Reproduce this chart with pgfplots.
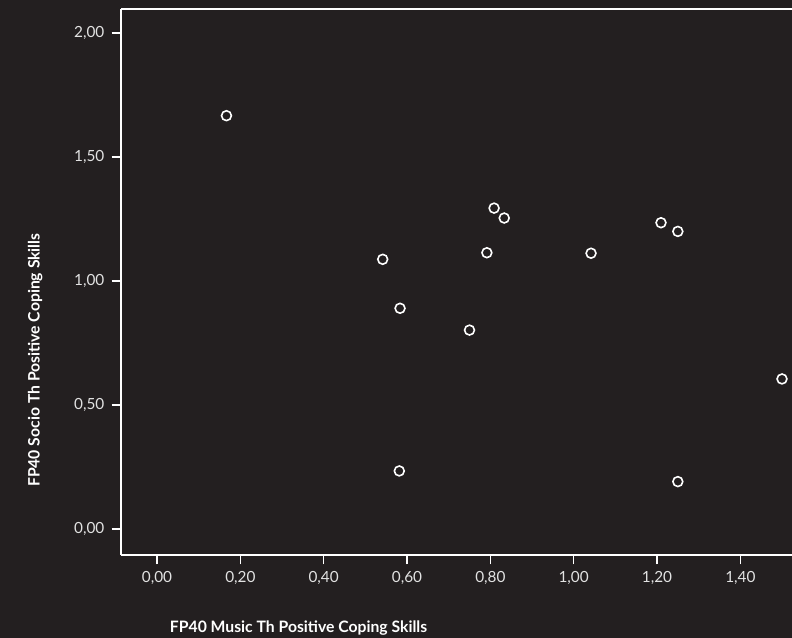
\documentclass[border=0pt]{standalone}
\usepackage{pgfplots}
\pgfplotsset{compat=1.18}
\usepackage{fontspec}
\setmainfont{Lato}
\definecolor{bg}{HTML}{231F20}
\definecolor{tk}{HTML}{E2E2E2}
\begin{document}
\begin{tikzpicture}
\fill[bg,use as bounding box] (0,0) rectangle (594pt,478.5pt);
\begin{axis}[
  at={(90.75pt,62.25pt)}, anchor=south west,
  scale only axis, width=503.25pt, height=409.5pt,
  xmin=-0.0864, xmax=1.524, ymin=-0.105, ymax=2.097,
  axis x line*=box, axis y line*=left,
  xtick pos=bottom, ytick pos=left,
  axis line style={white, line width=1.2pt},
  every tick/.style={white, line width=1.2pt},
  tick align=outside, major tick length=7pt,
  xtick={0,0.2,...,1.41}, ytick={0,0.5,...,2.01},
  minor tick num=0,
  /pgf/number format/.cd, use comma, fixed, fixed zerofill, precision=2, assume math mode=true,
  /pgfplots/.cd,
  tick label style={font=\fontsize{11.5}{13}\selectfont, text=tk},
  xticklabel style={yshift=-2pt},
  yticklabel style={xshift=-2pt},
  xlabel={FP40 Music Th Positive Coping Skills},
  ylabel={FP40 Socio Th Positive Coping Skills},
  label style={font=\fontsize{11.8}{14}\selectfont\bfseries, text=white},
  xlabel style={at={(axis description cs:0.066,-0.134)}, anchor=west},
  ylabel style={at={(axis description cs:-0.128,0.357)}, anchor=center, rotate=0},
  clip=false,
]
\addplot[only marks, mark=o, mark size=3.7pt, mark options={white, line width=1.2pt}] coordinates {
(0.1667,1.6667)
(0.5417,1.0875)
(0.5833,0.8900)
(0.5815,0.2340)
(0.7500,0.8020)
(0.7917,1.1140)
(0.8090,1.2940)
(0.8333,1.2540)
(1.0417,1.1120)
(1.2096,1.2350)
(1.2500,1.2000)
(1.2500,0.1910)
(1.5000,0.6050)
};
\end{axis}
\end{tikzpicture}
\end{document}
